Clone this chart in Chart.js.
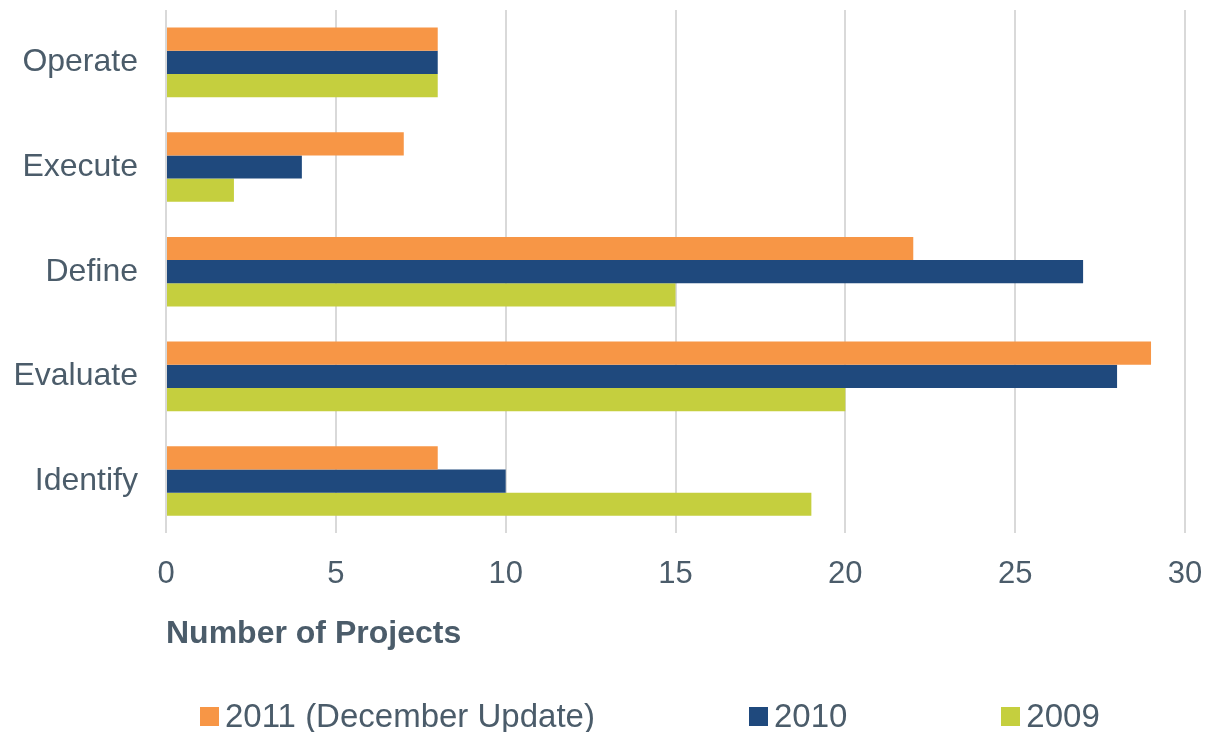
<!DOCTYPE html>
<html>
<head>
<meta charset="utf-8">
<script src="https://cdn.jsdelivr.net/npm/chart.js@4"></script>
<style>
  html, body { margin: 0; padding: 0; background: #ffffff; }
  #wrap { position: relative; width: 1209px; height: 732px; }
  #legend {
    position: absolute; left: 200px; top: 697px; height: 38px;
    display: flex; align-items: center; gap: 154px;
    font-family: "Liberation Sans", Arial, sans-serif; font-size: 33px; color: #4b5c6a;
  }
  .legend-item { display: flex; align-items: center; white-space: nowrap; }
  .legend-box { width: 19px; height: 19px; margin-right: 6px; }
</style>
</head>
<body>
<div id="wrap">
  <canvas id="stage-chart" width="1209" height="732"></canvas>
  <div id="legend"></div>
</div>
<script>
// ====================================================================
//
// Data
//
// ====================================================================

const stages = ["Operate", "Execute", "Define", "Evaluate", "Identify"];
const seriesNames = ["2011 (December Update)", "2010", "2009"];
const projects2011 = [8, 7, 22, 29, 8];
const projects2010 = [8, 4, 27, 28, 10];
const projects2009 = [8, 2, 15, 20, 19];
const xTicks = [0, 5, 10, 15, 20, 25, 30];

const seriesColors = ["#f79646", "#1f497d", "#c5cf3e"];
const textColor = "#4b5c6a";
const fontFamily = '"Liberation Sans", Arial, sans-serif';

// ====================================================================
//
// Chart
//
// ====================================================================

let stageChart = document.getElementById("stage-chart").getContext("2d");

const data = {
  labels: stages,
  datasets: [projects2011, projects2010, projects2009].map((values, i) => {
    return {
      label: seriesNames[i],
      data: values,
      backgroundColor: seriesColors[i],
      borderWidth: 0,
      barPercentage: 1.0,
      categoryPercentage: 0.665,
    };
  }),
};

var myStageChart = new Chart(stageChart, {
  type: "bar",
  data: data,
  options: {
    indexAxis: "y",
    responsive: false,
    animation: false,
    layout: { padding: { top: 10, right: 24, bottom: 79, left: 0 } },
    plugins: {
      legend: { display: false },
      tooltip: { enabled: false },
    },
    scales: {
      x: {
        min: 0,
        max: 30,
        afterBuildTicks: (scale) => {
          scale.ticks = xTicks.map((v) => ({ value: v }));
        },
        // keep the tick padding from eating the right edge
        afterFit: (scale) => {
          scale.paddingLeft = 0;
          scale.paddingRight = 0;
        },
        grid: { color: "#d9d9d9", lineWidth: 2, drawTicks: false },
        border: { display: false },
        ticks: {
          padding: 22,
          color: textColor,
          font: { family: fontFamily, size: 31 },
        },
        title: {
          display: true,
          text: "Number of Projects",
          align: "start",
          color: textColor,
          padding: { top: 0, bottom: 0 },
          font: { family: fontFamily, size: 32, weight: "bold" },
        },
      },
      y: {
        grid: { display: false, drawTicks: false },
        border: { display: false },
        afterFit: (scale) => {
          scale.width = 166;
          scale.paddingTop = 0;
          scale.paddingBottom = 0;
        },
        ticks: {
          padding: 28,
          color: textColor,
          font: { family: fontFamily, size: 32 },
        },
      },
    },
  },
});

// ====================================================================
//
// Legend (html, built from the chart datasets)
//
// ====================================================================

const buildLegend = () => {
  let legendHtml = ``;
  myStageChart.data.datasets.forEach((ds) => {
    legendHtml += `<div class="legend-item"><span class="legend-box" style="background:${ds.backgroundColor}"></span>${ds.label}</div>`;
  });
  document.getElementById("legend").innerHTML = legendHtml;
};
buildLegend();
</script>
</body>
</html>
